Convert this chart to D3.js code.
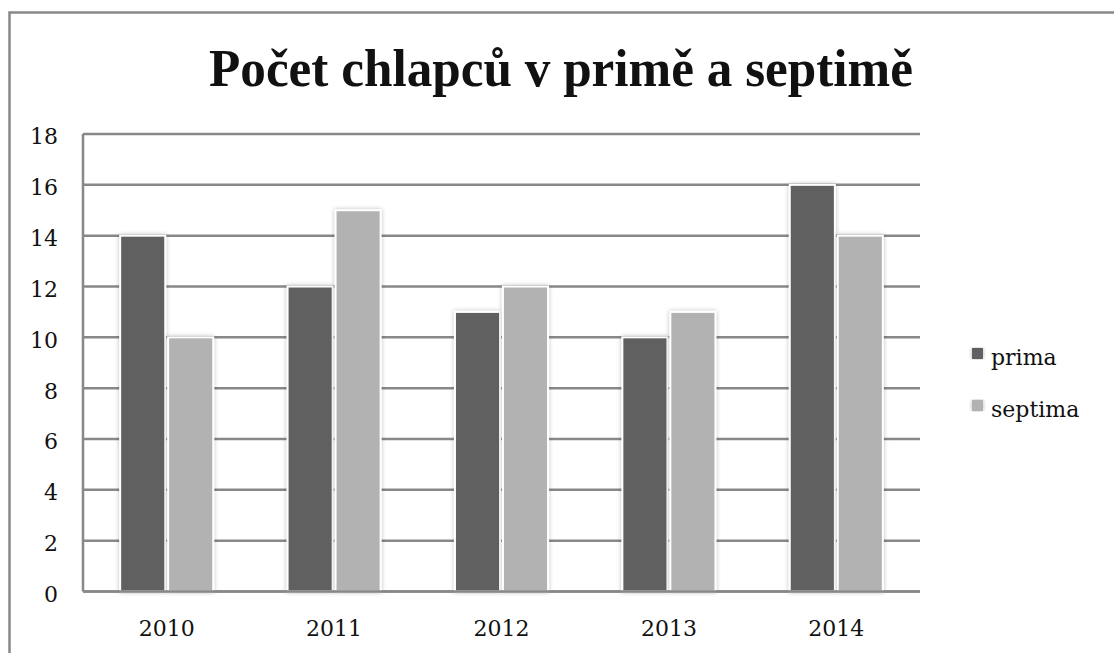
<!DOCTYPE html>
<html>
<head>
<meta charset="utf-8">
<script src="https://cdn.jsdelivr.net/npm/d3@7"></script>
<style>
  body { margin: 0; background: #fff; }
  svg text { fill: #111; }
</style>
</head>
<body>
<div id="chart"></div>
<script>
// data
var years = ["2010", "2011", "2012", "2013", "2014"];
var series = ["prima", "septima"];
var prima = [14, 12, 11, 10, 16];
var septima = [10, 15, 12, 11, 14];
var yTicks = [0, 2, 4, 6, 8, 10, 12, 14, 16, 18];
var title = "Počet chlapců v primě a septimě";

var colors = { prima: "#606060", septima: "#b2b2b2" };
var values = { prima: prima, septima: septima };

var width = 1114, height = 653;
var plotLeft = 83, plotRight = 920,
    plotTop = 134, plotBottom = 591.5;

var svg = d3.select("#chart").append("svg")
  .attr("width", width)
  .attr("height", height);

// shadow for bars
var defs = svg.append("defs");
var f = defs.append("filter").attr("id", "shadow")
  .attr("x", "-20%").attr("y", "-5%").attr("width", "140%").attr("height", "110%");
f.append("feDropShadow")
  .attr("dx", 0).attr("dy", 0)
  .attr("stdDeviation", 2)
  .attr("flood-color", "#000")
  .attr("flood-opacity", 0.28);

// outer frame
svg.append("rect")
  .attr("x", 9.5).attr("y", 12.5)
  .attr("width", width + 20).attr("height", height + 20)
  .attr("fill", "none")
  .attr("stroke", "#888")
  .attr("stroke-width", 2.5);

// title
svg.append("text")
  .text(title)
  .attr("x", 209)
  .attr("y", 86)
  .attr("font-family", "'Liberation Serif', serif")
  .attr("font-weight", "bold")
  .attr("font-size", "53px")
  .attr("textLength", 704)
  .attr("lengthAdjust", "spacingAndGlyphs");

// scales
var y = d3.scaleLinear().domain([0, 18]).range([plotBottom, plotTop]);
var x0 = d3.scaleBand().domain(years)
  .range([plotLeft, plotRight])
  .paddingInner(0.444).paddingOuter(0.222);
var x1 = d3.scaleBand().domain(series)
  .range([0, x0.bandwidth()])
  .paddingInner(0.06);

// gridlines
svg.append("g").selectAll("line")
  .data(yTicks).enter()
  .append("line")
  .attr("x1", plotLeft).attr("x2", plotRight)
  .attr("y1", function(d){ return y(d); })
  .attr("y2", function(d){ return y(d); })
  .attr("stroke", "#888")
  .attr("stroke-width", 2.5);

// left axis line
svg.append("line")
  .attr("x1", plotLeft).attr("x2", plotLeft)
  .attr("y1", y(18)).attr("y2", y(0))
  .attr("stroke", "#888")
  .attr("stroke-width", 2.5);

// y labels
var yAxis = svg.append("g")
  .attr("transform", "translate(" + 58 + ",0)")
  .call(d3.axisLeft(y).tickValues(yTicks).tickSize(0).tickPadding(0));
yAxis.select(".domain").remove();
yAxis.selectAll("text")
  .attr("font-family", "'DejaVu Serif', serif")
  .attr("font-size", "22px")
  .attr("dy", "0.45em")
  .style("fill", "#111");

// bars
var groups = svg.append("g").selectAll("g")
  .data(years).enter()
  .append("g")
  .attr("transform", function(d){ return "translate(" + x0(d) + ",0)"; });

groups.selectAll("rect")
  .data(function(d, i){
    return series.map(function(s){ return { key: s, value: values[s][i] }; });
  }).enter()
  .append("rect")
  .attr("x", function(d){ return x1(d.key); })
  .attr("width", x1.bandwidth())
  .attr("y", function(d){ return y(d.value); })
  .attr("height", function(d){ return y(0) - y(d.value); })
  .attr("fill", function(d){ return colors[d.key]; })
  .attr("stroke", "#fff")
  .attr("stroke-width", 2)
  .attr("filter", "url(#shadow)");

// bottom axis line (drawn over bars)
svg.append("line")
  .attr("x1", plotLeft).attr("x2", plotRight)
  .attr("y1", y(0)).attr("y2", y(0))
  .attr("stroke", "#888")
  .attr("stroke-width", 2.5);

// x labels
var xAxis = svg.append("g")
  .attr("transform", "translate(0," + plotBottom + ")")
  .call(d3.axisBottom(x0).tickSize(0).tickPadding(0));
xAxis.select(".domain").remove();
xAxis.selectAll("text")
  .attr("font-family", "'DejaVu Serif', serif")
  .attr("font-size", "22px")
  .attr("y", 44)
  .attr("dy", 0)
  .style("fill", "#111");

// legend
var legend = svg.append("g").selectAll("g")
  .data(series).enter()
  .append("g")
  .attr("transform", function(d, i){ return "translate(972," + (348 + i * 52) + ")"; });
legend.append("rect")
  .attr("width", 11).attr("height", 11)
  .attr("fill", function(d){ return colors[d]; })
  .attr("filter", "url(#shadow)");
legend.append("text")
  .text(function(d){ return d; })
  .attr("x", 19)
  .attr("y", 17)
  .attr("font-family", "'DejaVu Serif', serif")
  .attr("font-size", "22px");
</script>
</body>
</html>
